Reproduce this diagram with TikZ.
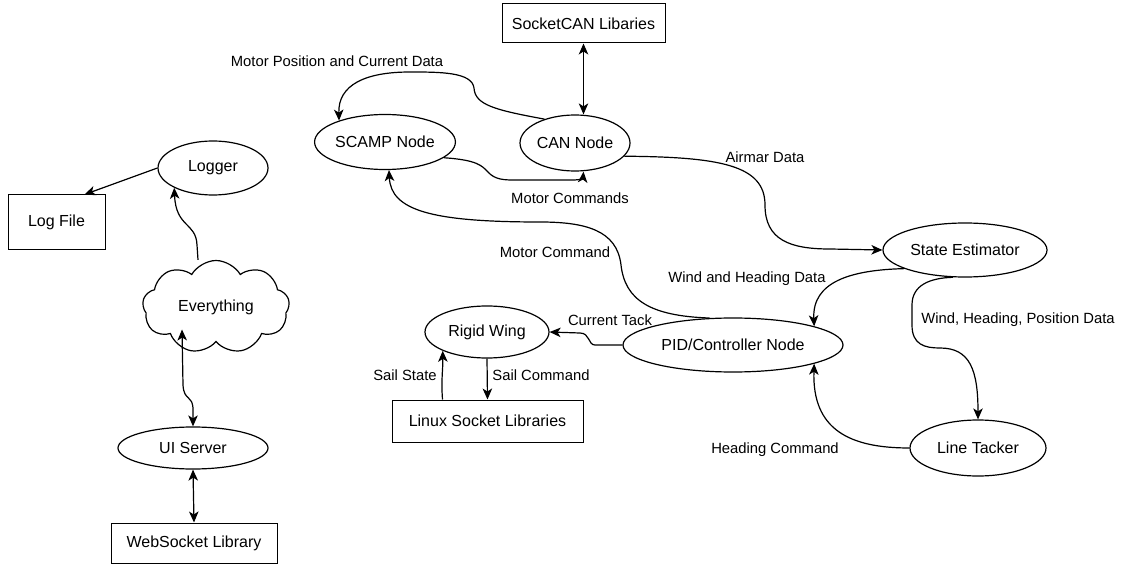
\documentclass[tikz,border=0pt]{standalone}
\usepackage{fontspec}
\setmainfont{Liberation Sans}
\usetikzlibrary{shapes.geometric,shapes.symbols,arrows.meta}
\begin{document}
\begin{tikzpicture}[x=1pt,y=-1pt,
  every node/.style={font=\fontsize{16}{19}\selectfont, inner sep=0pt},
  oval/.style={draw, ellipse, line width=1.2pt},
  box/.style={draw, rectangle, line width=1pt},
  lbl/.style={font=\fontsize{14.8}{17}\selectfont},
  tip/.tip={Stealth[length=11pt,width=9.5pt,inset=3pt]},
  arr/.style={line width=1.2pt, -tip},
  darr/.style={line width=1.2pt, tip-tip}
]
\useasboundingbox (0,0) rectangle (1122,564);

% nodes
\node[box, minimum width=163pt, minimum height=39pt] (socketcan) at (583.5,23.5) {SocketCAN Libaries};
\node[oval, minimum width=140pt, minimum height=55pt] (scamp) at (385,142) {SCAMP Node};
\node[oval, minimum width=110pt, minimum height=56pt] (can) at (575,143) {CAN Node};
\node[oval, minimum width=110pt, minimum height=54pt] (logger) at (213,168) {Logger};
\node[box, minimum width=97pt, minimum height=55pt] (logfile) at (56.5,222.5) {Log File};
\node[draw, cloud, cloud puffs=9, cloud puff arc=120, aspect=1.6, line width=1.2pt,
      minimum width=147pt, minimum height=93pt] (everything) at (216,307) {Everything};
\node[oval, minimum width=150pt, minimum height=42pt] (ui) at (193,448) {UI Server};
\node[box, minimum width=166pt, minimum height=40pt] (web) at (194,543) {WebSocket Library};
\node[oval, minimum width=164pt, minimum height=54pt] (se) at (965,250) {State Estimator};
\node[oval, minimum width=220pt, minimum height=54pt] (pid) at (733,345) {PID/Controller Node};
\node[oval, minimum width=136pt, minimum height=56pt] (lt) at (978,448) {Line Tacker};
\node[oval, minimum width=124pt, minimum height=52pt] (rw) at (487,332) {Rigid Wing};
\node[box, minimum width=191pt, minimum height=42pt] (linux) at (487.5,421) {Linux Socket Libraries};

% left column
\draw[arr] (logger.180) -- ([xshift=28pt]logfile.north);
\draw[arr] ([xshift=-18pt]everything.north) -- (197,245) .. controls (196,222) and (176,228) .. (logger.207);
\draw[darr] ([shift={(-34pt,13pt)}]everything.south) -- (183,385) .. controls (184,402) and (193,394) .. (193,410) -- (ui.north);
\draw[darr] (ui.south) -- (web.north);

% top
\draw[darr] (socketcan.south) -- (socketcan.south |- can.north);
\draw[arr] (can.142) .. controls (495,110) and (475,105) .. (474,88)
   .. controls (472,72) and (440,72) .. (410,72)
   .. controls (365,72) and (338,85) .. (scamp.155);
\draw[arr] (scamp.-15) .. controls (478,160) and (482,166) .. (488,172)
   .. controls (495,180) and (505,180) .. (515,180) -- (572,180)
   .. controls (582,180) and (583,178) .. (socketcan.south |- can.south);
\draw[arr] (can.-15) .. controls (720,157) and (765,165) .. (765,205)
   .. controls (765,240) and (790,249) .. (830,249) -- (se.west);
\draw[arr] (pid.131) .. controls (650,316) and (625,300) .. (621,265)
   .. controls (617,230) and (585,222) .. (540,222)
   .. controls (430,222) and (391,210) .. (scamp.-82);

% right
\draw[arr] (se.197) .. controls (850,270) and (812,282) .. (pid.13);
\draw[arr] (se.246) .. controls (930,278) and (912,285) .. (912,305) -- (912,325)
   .. controls (912,345) and (925,348) .. (940,348)
   .. controls (970,348) and (978,370) .. (lt.north);
\draw[arr] (lt.west) .. controls (850,448) and (812,430) .. (pid.-13);
\draw[arr] (pid.west) -- (595,345) .. controls (588,345) and (590,333) .. (580,333) -- (rw.east);
\draw[arr] ([xshift=-45pt]linux.north) .. controls (441,380) and (443,370) .. (rw.203);
\draw[arr] (rw.south) -- (linux.north);

% labels
\node[lbl] (l1) at (337,61) {Motor Position and Current Data};
\node[lbl] (l2) at (570,198) {Motor Commands};
\node[lbl] (l3) at (765,157) {Airmar Data};
\node[lbl] (l4) at (555,252) {Motor Command};
\node[lbl] (l5) at (747,279) {Wind and Heading Data};
\node[lbl] (l6) at (1018,320) {Wind, Heading, Position Data};
\node[lbl] (l7) at (610,320) {Current Tack};
\node[lbl] (l8) at (405,375) {Sail State};
\node[lbl] (l9) at (541,375) {Sail Command};
\node[lbl] (l10) at (775,450) {Heading Command};
\end{tikzpicture}
\end{document}
